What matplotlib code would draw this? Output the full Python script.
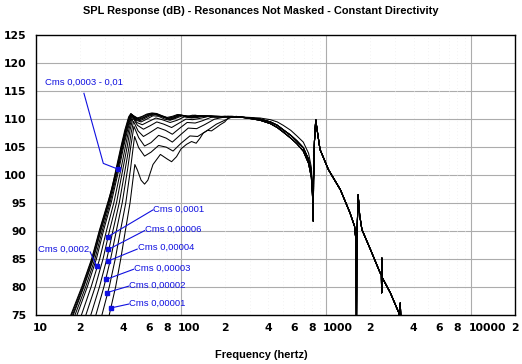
import numpy as np
import matplotlib
matplotlib.use("Agg")
import matplotlib.pyplot as plt
from matplotlib.transforms import blended_transform_factory

# ---------------- data ----------------
# Low-frequency part of each curve (Hz, dB); ordered from largest Cms to smallest
F_C01 = [16, 17.4, 20.7, 24.2, 27.3, 31.2, 33.2, 35.6, 38.5, 41, 43.5, 45, 47, 50, 54, 58, 63, 68, 74, 80, 87, 94, 102, 110, 120, 132, 145, 160, 178, 200, 225]
DB_C01 = [71, 75, 80, 85, 90, 95, 97.3, 101, 105, 108, 110.3, 110.9, 110.5, 110.1, 110.4, 110.8, 111.0, 110.9, 110.5, 110.2, 110.4, 110.7, 110.6, 110.4, 110.6, 110.5, 110.3, 110.5, 110.4, 110.3, 110.4]
F_C02 = [16, 17.6, 20.9, 24.4, 27.5, 31.4, 35.9, 38.8, 41.3, 43.8, 45.2, 47.5, 50.5, 54, 58, 63, 68, 75, 81, 88, 95, 105, 115, 125, 140, 160, 185, 215]
DB_C02 = [71, 75, 80, 85, 90, 95, 101, 105, 108, 110.2, 110.8, 110.4, 110.0, 110.3, 110.7, 110.9, 110.8, 110.4, 110.1, 110.3, 110.7, 110.5, 110.4, 110.6, 110.4, 110.4, 110.4, 110.3]
F_C03 = [16, 17.9, 21.2, 24.7, 27.8, 31.7, 36.2, 39.1, 41.6, 44, 45.3, 48, 51, 55, 59, 64, 69, 76, 82, 89, 96, 106, 118, 130, 150, 175, 210]
DB_C03 = [70, 75, 80, 85, 90, 95, 101, 105, 108, 110.1, 110.8, 110.2, 109.9, 110.2, 110.6, 110.9, 110.7, 110.3, 110.0, 110.3, 110.6, 110.5, 110.3, 110.5, 110.4, 110.4, 110.3]
F_C04 = [16, 18.1, 21.4, 24.9, 28.0, 31.9, 36.4, 39.3, 41.9, 44.2, 45.4, 48, 51.5, 55, 60, 65, 70, 77, 83, 90, 98, 108, 120, 135, 155, 180, 215]
DB_C04 = [70, 75, 80, 85, 90, 95, 101, 105, 108, 110.0, 110.7, 110.1, 109.8, 110.1, 110.6, 110.8, 110.6, 110.2, 109.9, 110.2, 110.6, 110.4, 110.3, 110.5, 110.4, 110.3, 110.3]
F_C05 = [16.5, 18.6, 22.0, 25.5, 28.6, 32.4, 36.8, 39.7, 42.3, 45.6, 48.5, 52, 56, 61, 66, 71, 78, 84, 92, 100, 110, 122, 138, 160, 190]
DB_C05 = [70, 75, 80, 85, 90, 95, 101, 105, 108, 110.7, 109.9, 109.6, 110.0, 110.5, 110.7, 110.5, 110.1, 109.8, 110.2, 110.6, 110.3, 110.2, 110.5, 110.4, 110.3]
F_C06 = [17, 19.2, 22.6, 26.1, 29.2, 33.0, 37.3, 40.2, 42.8, 45.9, 49, 53, 57, 64, 70, 77, 84, 93, 102, 115, 125, 145, 170, 200]
DB_C06 = [70, 75, 80, 85, 90, 95, 101, 105, 108, 110.6, 109.7, 109.4, 109.8, 110.5, 110.4, 109.9, 109.7, 110.1, 110.5, 110.2, 110.3, 110.5, 110.3, 110.4]
F_C07 = [18, 20.6, 24.0, 27.5, 30.6, 34.4, 38.5, 41.3, 43.6, 46.2, 49.5, 54, 59, 67, 74, 84, 94, 105, 118, 130, 150, 180, 220]
DB_C07 = [70, 75, 80, 85, 90, 95, 101, 105, 108, 110.4, 109.3, 108.9, 109.4, 110.1, 109.8, 109.3, 109.7, 110.3, 110.1, 110.2, 110.5, 110.3, 110.4]
F_C08 = [19.5, 22.1, 25.6, 29.0, 32.1, 35.9, 39.7, 42.5, 44.5, 46.6, 50, 55, 61, 68, 76, 86, 97, 108, 120, 133, 155, 190]
DB_C08 = [70, 75, 80, 85, 90, 95, 101, 105, 108, 110.1, 108.8, 108.1, 108.7, 109.4, 109.0, 108.4, 109.2, 109.9, 109.8, 110.0, 110.4, 110.3]
F_C09 = [21, 23.9, 27.4, 30.8, 33.9, 37.5, 41.2, 43.8, 45.3, 47, 50.5, 55, 61, 69, 78, 87, 98, 110, 125, 140, 160, 200]
DB_C09 = [70, 75, 80, 85, 90, 95, 101, 105, 107.5, 109.5, 107.8, 106.8, 107.5, 108.4, 107.9, 107.2, 108.3, 109.3, 109.2, 109.6, 110.2, 110.4]
F_C10 = [23, 25.9, 29.4, 32.7, 35.8, 39.3, 42.8, 45, 47.3, 51, 56, 62, 70, 79, 87, 100, 112, 128, 145, 170, 210]
DB_C10 = [70, 75, 80, 85, 90, 95, 101, 105, 108.6, 106.6, 105.1, 105.7, 107.0, 106.5, 105.8, 107.2, 108.3, 108.2, 108.9, 109.9, 110.4]
F_C11 = [25.5, 28.5, 32.0, 35.2, 38.2, 41.6, 44.8, 46.3, 47.8, 51, 56, 62, 70, 79, 88, 100, 115, 130, 150, 175, 220]
DB_C11 = [70, 75, 80, 85, 90, 95, 101, 104, 106.8, 104.8, 103.3, 104.0, 105.2, 104.9, 104.2, 105.6, 106.9, 106.8, 107.8, 109.0, 110.2]
F_C12 = [29, 32, 35.4, 38.4, 41.3, 44.5, 46.5, 48, 50, 53, 56, 59, 64, 72, 80, 86, 93, 100, 109, 118, 127, 135, 142, 152, 162, 175, 186, 200, 211, 240]
DB_C12 = [70, 75, 80, 85, 90, 95, 99, 101.8, 100.8, 99.0, 98.3, 99.0, 101.8, 103.6, 102.8, 102.3, 103.2, 104.6, 105.4, 105.9, 105.6, 106.5, 107.4, 107.9, 107.8, 108.4, 108.9, 109.4, 110.1, 110.4]

CMS_LABELS = ["0,01", "0,003", "0,001", "0,0005", "0,0003", "0,0002",
              "0,0001", "0,00006", "0,00004", "0,00003", "0,00002", "0,00001"]

# Cone roll-off region (three slightly different traces)
ROLL_FREQ = [250, 300, 350, 412, 460, 505, 570, 628, 695, 756, 790, 805]
ROLL_DB_A = [110.3, 110.1, 109.9, 109.4, 108.8, 108.0, 107.0, 106.0, 104.8, 102.7, 100.3, 96.7]
ROLL_DB_B = [110.3, 110.0, 109.7, 109.1, 108.4, 107.6, 106.5, 105.5, 104.2, 102.0, 99.5, 96.0]
ROLL_DB_C = [110.3, 110.2, 110.1, 109.8, 109.4, 108.8, 107.9, 106.9, 105.8, 103.8, 101.3, 97.5]
ROLL_GROUP = ["A", "A", "A", "A", "A", "A", "B", "B", "B", "B", "B", "C"]

# Breakup region (common to all curves)
BREAK_FREQ = [812, 815, 818, 830, 847, 860, 906, 1035, 1252, 1457, 1567, 1600, 1610, 1616, 1625, 1660,
              1700, 1762, 2020, 2350, 2400, 2410, 2420, 2435, 2767, 3170, 3200, 3240, 3270, 3400]
BREAK_DB = [93.0, 91.7, 99.0, 106.0, 109.8, 108.5, 104.5, 100.9, 97.3, 93.2, 90.8, 88.5, 82.0, 70.0, 88.0, 96.4,
            92.8, 90.2, 86.6, 82.5, 82.1, 78.9, 85.1, 81.6, 78.9, 75.3, 74.8, 77.1, 74.0, 70.0]

YTICKS = [75, 80, 85, 90, 95, 100, 105, 110, 115, 120, 125]
XTICK_POS = [10, 20, 40, 60, 80, 100, 200, 400, 600, 800, 1000, 2000, 4000, 6000, 8000, 10000, 20000]
XTICK_LABELS = ["10", "2", "4", "6", "8", "100", "2", "4", "6", "8", "1000", "2", "4", "6", "8", "10000", "2"]

# ---------------- figure ----------------
W, H = 522, 364
fig = plt.figure(figsize=(W / 100, H / 100), dpi=100)
ax = fig.add_axes([36 / W, (H - 314.7) / H, 479 / W, 280.2 / H])
ax.set_xscale("log")
ax.set_xlim(10, 20000)
ax.set_ylim(75, 125)

# grid
for y in YTICKS[1:-1]:
    ax.axhline(y, color="#acacac", lw=0.8, zorder=1)
for x in [100, 1000, 10000]:
    ax.axvline(x, color="#acacac", lw=0.8, zorder=1)
for dec in [10, 100, 1000, 10000]:
    for m in range(2, 10):
        if dec * m < 20000:
            ax.axvline(dec * m, color="#eeeeee", lw=0.6, ls=(0, (1, 3)), zorder=1)

lows = [(F_C01, DB_C01), (F_C02, DB_C02), (F_C03, DB_C03), (F_C04, DB_C04),
        (F_C05, DB_C05), (F_C06, DB_C06), (F_C07, DB_C07), (F_C08, DB_C08),
        (F_C09, DB_C09), (F_C10, DB_C10), (F_C11, DB_C11), (F_C12, DB_C12)]
roll = {"A": ROLL_DB_A, "B": ROLL_DB_B, "C": ROLL_DB_C}
for (fl, dl), g, lab in zip(lows, ROLL_GROUP, CMS_LABELS):
    f = list(fl) + ROLL_FREQ + BREAK_FREQ
    d = list(dl) + roll[g] + BREAK_DB
    ax.plot(f, d, color="black", lw=0.75, zorder=3, label="Cms " + lab)

for s in ax.spines.values():
    s.set_color("black")
    s.set_linewidth(1.0)

ax.set_yticks(YTICKS)
ax.set_yticklabels([str(v) for v in YTICKS])
ax.tick_params(axis="y", length=0, pad=7)
for t in ax.get_yticklabels():
    t.set_fontfamily("DejaVu Sans")
    t.set_fontweight("bold")
    t.set_fontsize(7.8)
ax.set_xticks([])
ax.minorticks_off()
ax.tick_params(axis="x", which="both", length=0)

trans = blended_transform_factory(ax.transData, ax.transAxes)
for pos, lab in zip(XTICK_POS, XTICK_LABELS):
    if len(lab) > 1:
        ax.text(pos * 10 ** (-3 / 145), -0.047, lab, transform=trans, ha="left", va="center",
                fontsize=7.8, fontweight="bold", family="DejaVu Sans", clip_on=False)
    else:
        ax.text(pos, -0.047, lab, transform=trans, ha="center", va="center",
                fontsize=7.8, fontweight="bold", family="DejaVu Sans", clip_on=False)

fig.text(0.5, 1 - 11 / H, "SPL Response (dB) - Resonances Not Masked - Constant Directivity",
         ha="center", va="center", fontsize=7.9, fontweight="bold", family="Liberation Sans")
fig.text(0.5, 1 - 355.5 / H, "Frequency (hertz)", ha="center", va="center",
         fontsize=7.9, fontweight="bold", family="Liberation Sans")

# annotations (text position, line path)
BLUE = "#1010e0"
ann = [
    ("Cms 0,0003 - 0,01", (11.53, 116.46), [(21.4, 114.5), (29.1, 102.0), (36.5, 101.0)]),
    ("Cms 0,0001", (64.4, 93.84), [(64.0, 93.7), (31.2, 88.9)]),
    ("Cms 0,00006", (56.5, 90.27), [(56.0, 90.0), (31.5, 86.64)]),
    ("Cms 0,00004", (50.3, 87.0), [(49.8, 86.7), (31.2, 84.55)]),
    ("Cms 0,00003", (47.4, 83.36), [(47.0, 83.1), (30.4, 81.29)]),
    ("Cms 0,00002", (44.0, 80.27), [(43.6, 80.1), (31.0, 78.96)]),
    ("Cms 0,00001", (44.0, 77.11), [(43.6, 76.9), (32.9, 76.21)]),
    ("Cms 0,0002", (10.37, 86.7), [(23.6, 86.21), (26.2, 83.66)]),
]
for txt, (tx, ty), path in ann:
    ax.text(tx, ty, txt, color=BLUE, fontsize=6.8, family="Liberation Sans",
            ha="left", va="center", zorder=6)
    xs = [p[0] for p in path]
    ys = [p[1] for p in path]
    ax.plot(xs, ys, color=BLUE, lw=0.8, zorder=5)
    ax.plot([xs[-1]], [ys[-1]], marker="s", ms=2.2, color=BLUE, zorder=5)

fig.savefig("out.png", dpi=100)
